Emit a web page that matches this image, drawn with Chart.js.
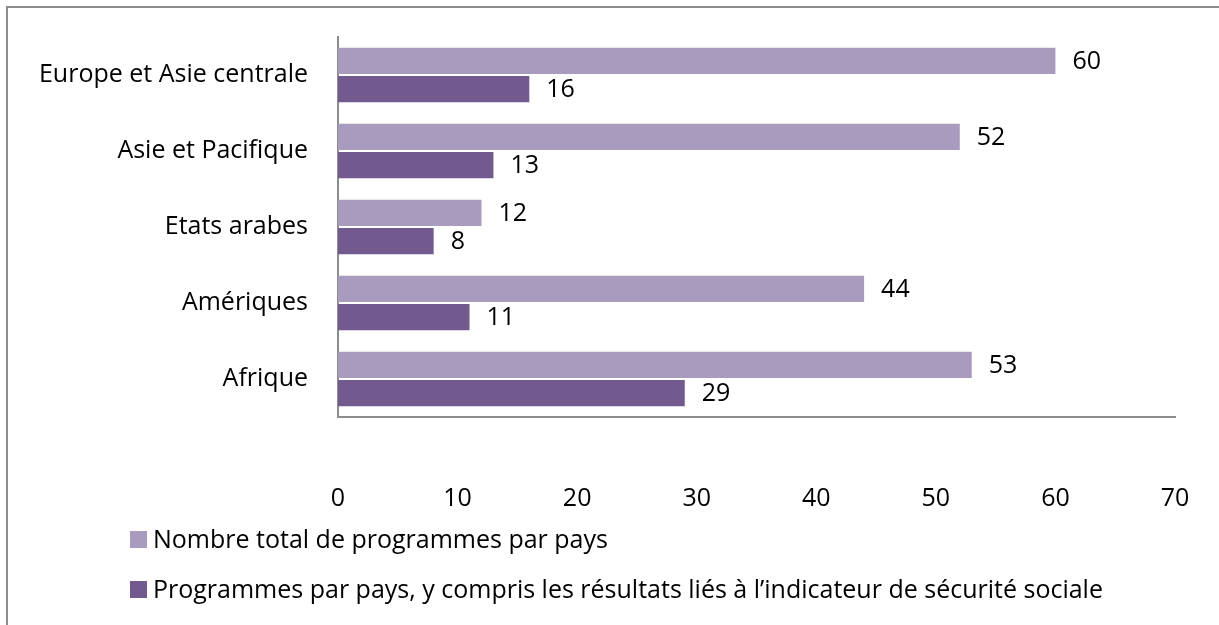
<!DOCTYPE html>
<html>
<head>
    <meta charset="UTF-8">
    <title>Programmes par pays</title>
    <script src="https://cdn.jsdelivr.net/npm/chart.js"></script>
    <style>
        html, body { margin: 0; padding: 0; background: #fff; }
        .frame {
            position: absolute;
            left: 6px; top: 6px;
            width: 1220px; height: 625px;
            border: 2px solid #8c8c8c;
            box-sizing: border-box;
        }
        .wrap { position: absolute; left: 0; top: 0; width: 1219px; height: 625px; }
    </style>
</head>
<body>
    <div class="frame"></div>
    <div class="wrap"><canvas id="chart" width="1219" height="625"></canvas></div>
    <script>
        // data
        const regions = ['Europe et Asie centrale', 'Asie et Pacifique', 'Etats arabes', 'Amériques', 'Afrique'];
        const totalProgrammes = [60, 52, 12, 44, 53];
        const socialProgrammes = [16, 13, 8, 11, 29];
        const seriesNames = [
            'Nombre total de programmes par pays',
            'Programmes par pays, y compris les résultats liés à l\u2019indicateur de sécurité sociale'
        ];
        const xTicks = [0, 10, 20, 30, 40, 50, 60, 70];

        const FONT = '"Open Sans", sans-serif';
        const SIZE = 25;
        const lightPurple = '#a99bbd';
        const darkPurple = '#725a8e';

        // value labels at the end of each bar
        const valueLabels = {
            id: 'valueLabels',
            afterDatasetsDraw(chart) {
                const ctx = chart.ctx;
                ctx.save();
                ctx.font = SIZE + 'px ' + FONT;
                ctx.fillStyle = '#000';
                ctx.textBaseline = 'middle';
                ctx.textAlign = 'left';
                chart.data.datasets.forEach((ds, i) => {
                    chart.getDatasetMeta(i).data.forEach((bar, j) => {
                        ctx.fillText(ds.data[j], bar.x + 17, bar.y + 1);
                    });
                });
                ctx.restore();
            }
        };

        // stacked legend at the bottom left
        const sideLegend = {
            id: 'sideLegend',
            afterDraw(chart) {
                const ctx = chart.ctx;
                ctx.save();
                ctx.font = SIZE + 'px ' + FONT;
                ctx.textBaseline = 'middle';
                const rows = [540, 590];
                chart.data.datasets.forEach((ds, i) => {
                    ctx.fillStyle = ds.backgroundColor;
                    ctx.fillRect(130, rows[i] - 9, 17, 17);
                    ctx.fillStyle = '#000';
                    ctx.fillText(ds.label, 153, rows[i] + 1);
                });
                ctx.restore();
            }
        };

        new Chart(document.getElementById('chart'), {
            type: 'bar',
            data: {
                labels: regions,
                datasets: [
                    { label: seriesNames[0], data: totalProgrammes, backgroundColor: lightPurple },
                    { label: seriesNames[1], data: socialProgrammes, backgroundColor: darkPurple }
                ]
            },
            options: {
                indexAxis: 'y',
                responsive: false,
                animation: false,
                categoryPercentage: 0.74,
                barPercentage: 0.93,
                layout: { padding: { left: 10, top: 37, right: 44, bottom: 108 } },
                plugins: {
                    legend: { display: false },
                    tooltip: { enabled: false }
                },
                scales: {
                    x: {
                        min: 0,
                        max: 70,
                        afterBuildTicks(scale) { scale.ticks = xTicks.map(v => ({ value: v })); },
                        afterFit(scale) {
                            scale.height = 100;
                            // tick padding is only meant vertically here
                            scale.paddingLeft = 0;
                            scale.paddingRight = 0;
                        },
                        grid: { display: false, drawTicks: false },
                        border: { display: true, color: '#8c8c8c', width: 2 },
                        ticks: { padding: 67, color: '#000', font: { family: FONT, size: SIZE } }
                    },
                    y: {
                        afterFit(scale) {
                            scale.width = 328;
                            scale.paddingTop = 0;
                            scale.paddingBottom = 0;
                        },
                        grid: { display: false, drawTicks: false },
                        border: { display: true, color: '#8c8c8c', width: 2 },
                        ticks: { padding: 30, color: '#000', font: { family: FONT, size: SIZE } }
                    }
                }
            },
            plugins: [valueLabels, sideLegend]
        });
    </script>
</body>
</html>
